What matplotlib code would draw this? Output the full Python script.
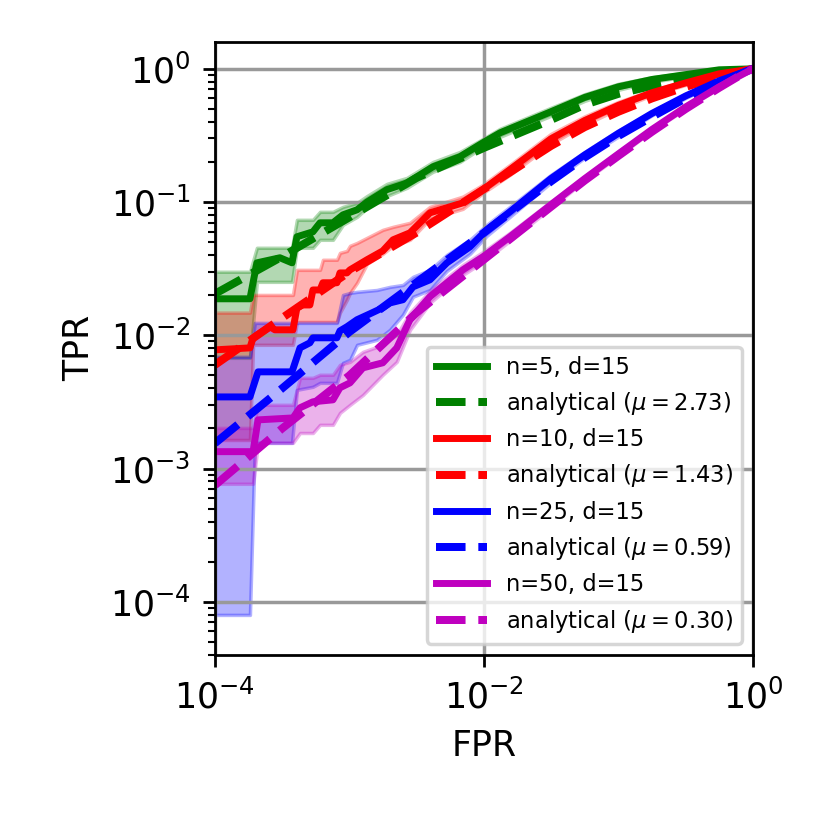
import matplotlib
matplotlib.use('Agg')
import matplotlib.pyplot as plt
from matplotlib.ticker import NullLocator

# analytical curves
fpr_analytic = [1e-4, 3.16e-4, 1e-3, 3.16e-3, 1e-2, 3.16e-2, 0.0562, 0.1, 0.178, 0.318, 0.562, 0.794, 1.0]
tpr_analytic_5 = [0.0205, 0.039, 0.077, 0.152, 0.255, 0.414, 0.537, 0.649, 0.745, 0.834, 0.925, 0.966, 1.0]
tpr_analytic_10 = [0.0060, 0.0135, 0.030, 0.059, 0.125, 0.264, 0.365, 0.476, 0.600, 0.733, 0.871, 0.95, 1.0]
tpr_analytic_25 = [0.00155, 0.0040, 0.0106, 0.025, 0.0588, 0.143, 0.216, 0.313, 0.436, 0.602, 0.791, 0.91, 1.0]
tpr_analytic_50 = [0.00075, 0.0020, 0.0050, 0.0148, 0.037, 0.0922, 0.145, 0.222, 0.337, 0.501, 0.72, 0.886, 1.0]
mu_values = [2.73, 1.43, 0.59, 0.30]

# empirical curves, n=5
fpr_emp_5 = [1.00e-4, 1.82e-4, 2.05e-4, 3.04e-4, 3.74e-4, 4.07e-4, 5.35e-4, 6.04e-4, 7.54e-4, 8.95e-4,
             1.14e-3, 1.35e-3, 1.90e-3, 2.68e-3, 4.18e-3, 6.64e-3, 9.84e-3, 1.32e-2, 3.15e-2, 0.0562,
             0.1, 0.178, 0.318, 0.562, 1.0]
tpr_emp_5 = [0.0188, 0.0188, 0.0350, 0.0382, 0.0350, 0.0549, 0.0598, 0.0699, 0.0699, 0.0802,
             0.0875, 0.100, 0.124, 0.139, 0.184, 0.219, 0.279, 0.331, 0.476, 0.61,
             0.733, 0.832, 0.905, 0.983, 1.0]
lo_5 = [0.00678, 0.00678, 0.0252, 0.0252, 0.0252, 0.0454, 0.0454, 0.0521, 0.0521, 0.0675,
        0.0775, 0.0905, 0.111, 0.128, 0.169, 0.200, 0.260, 0.309, 0.444, 0.575,
        0.696, 0.80, 0.875, 0.965, 1.0]
hi_5 = [0.0300, 0.0300, 0.0454, 0.0454, 0.0454, 0.0736, 0.0736, 0.0845, 0.0845, 0.0921,
        0.0987, 0.111, 0.137, 0.152, 0.200, 0.238, 0.298, 0.355, 0.510, 0.645,
        0.772, 0.865, 0.935, 0.995, 1.0]

# n=10
fpr_emp_10 = [1.00e-4, 1.82e-4, 1.92e-4, 2.56e-4, 2.79e-4, 3.80e-4, 4.07e-4, 4.51e-4, 5.08e-4, 5.35e-4,
              6.04e-4, 6.35e-4, 8.07e-4, 8.50e-4, 9.58e-4, 1.01e-3, 1.35e-3, 1.77e-3, 2.11e-3, 2.82e-3,
              3.97e-3, 6.98e-3, 9.84e-3, 1.56e-2, 3.15e-2, 0.0562, 0.1, 0.178, 0.318, 0.562, 1.0]
tpr_emp_10 = [0.00778, 0.00805, 0.00958, 0.0116, 0.0110, 0.0110, 0.0161, 0.0169, 0.0169, 0.0219,
              0.0219, 0.0248, 0.0248, 0.0294, 0.0294, 0.0310, 0.0369, 0.0430, 0.0521, 0.0588,
              0.0830, 0.0987, 0.124, 0.175, 0.298, 0.409, 0.532, 0.662, 0.785, 0.917, 1.0]
fpr_band_10 = [1.00e-4, 1.82e-4, 1.92e-4, 3.80e-4, 4.07e-4, 6.04e-4, 6.35e-4, 8.07e-4, 8.50e-4, 9.58e-4,
               1.01e-3, 1.14e-3, 1.35e-3, 1.77e-3, 2.11e-3, 2.82e-3, 3.97e-3, 6.98e-3, 9.84e-3, 1.56e-2,
               3.15e-2, 0.0562, 0.1, 0.178, 0.318, 0.562, 1.0]
hi_10 = [0.0148, 0.0148, 0.0201, 0.0201, 0.0310, 0.0310, 0.0369, 0.0369, 0.0416, 0.0430,
         0.0470, 0.0494, 0.0539, 0.0619, 0.0652, 0.0699, 0.0921, 0.110, 0.135, 0.190,
         0.325, 0.44, 0.565, 0.69, 0.813, 0.935, 1.0]
lo_10 = [0.00164, 0.00164, 0.00849, 0.00849, 0.0126, 0.0126, 0.0126, 0.0126, 0.0148, 0.0185,
         0.0208, 0.0248, 0.0344, 0.0409, 0.0470, 0.0521, 0.0749, 0.0890, 0.117, 0.160,
         0.273, 0.38, 0.501, 0.635, 0.759, 0.90, 1.0]

# n=25
fpr_emp_25 = [1.00e-4, 1.82e-4, 2.09e-4, 3.74e-4, 4.29e-4, 5.08e-4, 5.35e-4, 8.07e-4, 8.50e-4, 9.58e-4,
              1.14e-3, 1.42e-3, 1.77e-3, 2.00e-3, 2.50e-3, 2.97e-3, 3.97e-3, 5.31e-3, 7.87e-3, 1.05e-2,
              1.56e-2, 3.15e-2, 0.0562, 0.1, 0.178, 0.318, 0.562, 1.0]
tpr_emp_25 = [0.00345, 0.00345, 0.00532, 0.00532, 0.00805, 0.00879, 0.00958, 0.00958, 0.0108, 0.0116,
              0.0131, 0.0145, 0.0161, 0.0175, 0.0185, 0.0231, 0.0261, 0.0350, 0.0461, 0.0619,
              0.0845, 0.150, 0.226, 0.328, 0.463, 0.627, 0.813, 1.0]
fpr_band_25 = [1.00e-4, 1.82e-4, 1.98e-4, 3.74e-4, 4.07e-4, 5.35e-4, 6.04e-4, 8.07e-4, 8.95e-4, 1.01e-3,
               1.14e-3, 1.60e-3, 2.00e-3, 2.50e-3, 2.97e-3, 3.97e-3, 5.31e-3, 7.87e-3, 1.05e-2, 1.56e-2,
               3.15e-2, 0.0562, 0.1, 0.178, 0.318, 0.562, 1.0]
hi_25 = [0.00690, 0.00690, 0.0124, 0.0124, 0.0124, 0.0124, 0.0124, 0.0124, 0.0201, 0.0208,
         0.0212, 0.0219, 0.0231, 0.0239, 0.0275, 0.0310, 0.0402, 0.0521, 0.0675, 0.0921,
         0.160, 0.238, 0.345, 0.478, 0.650, 0.83, 1.0]
lo_25 = [7.98e-5, 7.98e-5, 0.00156, 0.00156, 0.00390, 0.00411, 0.00440, 0.00440, 0.00622, 0.00655,
         0.00849, 0.00925, 0.0110, 0.0143, 0.0195, 0.0219, 0.0305, 0.0409, 0.0558, 0.0775,
         0.140, 0.215, 0.310, 0.448, 0.605, 0.795, 1.0]

# n=50
fpr_emp_50 = [1.00e-4, 1.92e-4, 2.09e-4, 3.80e-4, 4.29e-4, 5.35e-4, 7.54e-4, 8.50e-4, 1.01e-3, 1.26e-3,
              1.77e-3, 2.25e-3, 2.50e-3, 2.82e-3, 3.97e-3, 6.98e-3, 9.84e-3, 1.56e-2, 3.15e-2, 0.0562,
              0.1, 0.178, 0.318, 0.562, 1.0]
tpr_emp_50 = [0.00134, 0.00134, 0.00232, 0.00240, 0.00286, 0.00317, 0.00328, 0.00404, 0.00440, 0.00570,
              0.00622, 0.00805, 0.0101, 0.0131, 0.0195, 0.0310, 0.0388, 0.0549, 0.0956, 0.150,
              0.230, 0.351, 0.519, 0.733, 1.0]
fpr_band_50 = [1.00e-4, 1.92e-4, 2.09e-4, 3.80e-4, 4.29e-4, 5.35e-4, 6.04e-4, 7.54e-4, 8.50e-4, 1.01e-3,
               1.26e-3, 1.77e-3, 2.25e-3, 2.82e-3, 3.97e-3, 6.98e-3, 9.84e-3, 1.56e-2, 3.15e-2, 0.0562,
               0.1, 0.178, 0.318, 0.562, 1.0]
hi_50 = [0.00202, 0.00202, 0.00301, 0.00301, 0.00480, 0.00480, 0.00506, 0.00506, 0.00601, 0.00633,
         0.00752, 0.00849, 0.0101, 0.0148, 0.0216, 0.0338, 0.0423, 0.0588, 0.101, 0.156,
         0.240, 0.360, 0.535, 0.745, 1.0]
lo_50 = [0.000769, 0.000769, 0.00156, 0.00156, 0.00185, 0.00185, 0.00213, 0.00213, 0.00262, 0.00301,
         0.00357, 0.00506, 0.00633, 0.0110, 0.0175, 0.0284, 0.0356, 0.0512, 0.0905, 0.145,
         0.221, 0.343, 0.503, 0.72, 1.0]

n_values = [5, 10, 25, 50]
colors = ['g', 'r', 'b', 'm']

series = [
    (fpr_emp_5, tpr_emp_5, fpr_emp_5, lo_5, hi_5, tpr_analytic_5),
    (fpr_emp_10, tpr_emp_10, fpr_band_10, lo_10, hi_10, tpr_analytic_10),
    (fpr_emp_25, tpr_emp_25, fpr_band_25, lo_25, hi_25, tpr_analytic_25),
    (fpr_emp_50, tpr_emp_50, fpr_band_50, lo_50, hi_50, tpr_analytic_50),
]

fig = plt.figure(figsize=(3.32, 3.32), dpi=250)
ax = fig.add_axes([0.259, 0.211, 0.648, 0.7386])

for i in range(len(series)):
    fx, ft, bx, lo, hi, an = series[i]
    c = colors[i]
    ax.plot(fx, ft, color=c, lw=2, label='n=%d, d=15' % n_values[i])
    ax.fill_between(bx, lo, hi, color=c, alpha=0.3)
    ax.plot(fpr_analytic, an, color=c, lw=2.3, ls='--',
            label=r'analytical ($\mu=%.2f$)' % mu_values[i])

ax.set_xscale('log')
ax.set_yscale('log')
ax.set_xlim(1e-4, 1)
ax.set_ylim(4.0e-5, 1.594)
ax.set_xticks([1e-4, 1e-2, 1])
ax.xaxis.set_minor_locator(NullLocator())
ax.grid(True, which='major', color='0.6', lw=1)
ax.set_xlabel('FPR')
ax.set_ylabel('TPR')
ax.legend(loc='lower right', fontsize=6.5, handlelength=2.3)

fig.savefig('out.png', dpi=250)
